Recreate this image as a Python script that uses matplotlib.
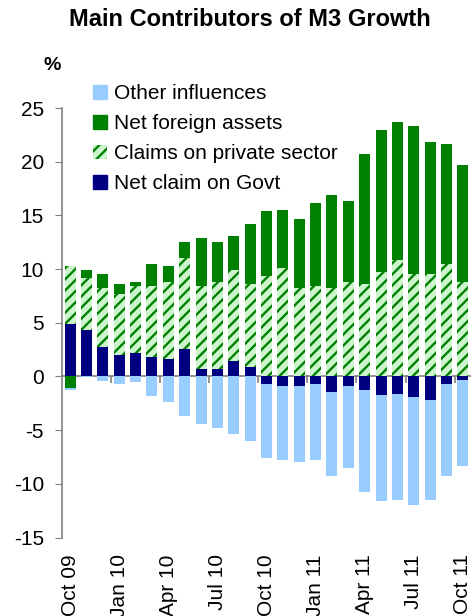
import matplotlib
matplotlib.use("Agg")
import matplotlib.pyplot as plt
import numpy as np
from matplotlib.patches import Patch

plt.rcParams['font.family'] = ['Liberation Sans', 'DejaVu Sans']
plt.rcParams['axes.unicode_minus'] = False
plt.rcParams['hatch.linewidth'] = 1.7
plt.rcParams['hatch.color'] = '#008000'

months = ["Oct 09", "Nov 09", "Dec 09", "Jan 10", "Feb 10", "Mar 10", "Apr 10", "May 10",
          "Jun 10", "Jul 10", "Aug 10", "Sep 10", "Oct 10", "Nov 10", "Dec 10", "Jan 11",
          "Feb 11", "Mar 11", "Apr 11", "May 11", "Jun 11", "Jul 11", "Aug 11", "Sep 11", "Oct 11"]

net_claim_govt = [4.85, 4.29, 2.74, 1.96, 2.17, 1.80, 1.59, 2.52, 0.65, 0.65, 1.40, 0.84,
                  -0.75, -0.93, -0.93, -0.75, -1.49, -0.93, -1.30, -1.77, -1.68, -1.96, -2.24, -0.75, -0.37]
claims_private = [5.41, 4.88, 5.53, 5.75, 6.23, 6.60, 7.21, 8.48, 7.75, 8.15, 8.49, 7.74,
                  9.33, 10.07, 8.20, 8.40, 8.20, 8.77, 8.58, 9.70, 10.82, 9.51, 9.51, 10.45, 8.77]
net_foreign_assets = [-1.10, 0.72, 1.24, 0.87, 0.40, 2.05, 1.46, 1.50, 4.47, 3.70, 3.17, 5.60,
                      6.06, 5.42, 6.45, 7.74, 8.68, 7.55, 12.12, 13.25, 12.88, 13.81, 12.32, 11.19, 10.91]
other_influences = [-0.20, -0.05, -0.40, -0.75, -0.56, -1.84, -2.40, -3.70, -4.45, -4.82, -5.38, -6.00,
                    -6.81, -6.81, -7.00, -6.99, -7.75, -7.56, -9.43, -9.80, -9.79, -9.98, -9.23, -8.49, -7.93]

tick_labels = months[::3]

fig = plt.figure(figsize=(4.71, 6.16), dpi=100)
ax = fig.add_axes([62 / 471, 1 - 537.5 / 616, (471 - 62) / 471, (537.5 - 108) / 616])

x = np.arange(len(months))
width = 0.67
pos_bottom = np.zeros(len(months))
neg_bottom = np.zeros(len(months))

series = [
    ("Net claim on Govt", net_claim_govt, dict(color='#000080')),
    ("Claims on private sector", claims_private, dict(facecolor='#ccf5cc', edgecolor='#008000', hatch='///', linewidth=0)),
    ("Net foreign assets", net_foreign_assets, dict(color='#008000')),
    ("Other influences", other_influences, dict(color='#99ccff')),
]
handles = {}
for name, vals, style in series:
    vals = np.array(vals)
    bottoms = np.where(vals >= 0, pos_bottom, neg_bottom)
    ax.bar(x, vals, width=width, bottom=bottoms, **style)
    pos_bottom = pos_bottom + np.where(vals >= 0, vals, 0)
    neg_bottom = neg_bottom + np.where(vals < 0, vals, 0)
    handles[name] = Patch(label=name, **style)

ax.set_xlim(-0.5, len(months) - 0.5)
ax.set_ylim(-15, 25)
ax.set_yticks(np.arange(-15, 26, 5))
ax.tick_params(axis='y', labelsize=15, length=5, color='#808080', pad=8)
for s in ['top', 'right', 'bottom']:
    ax.spines[s].set_visible(False)
ax.spines['left'].set_color('#808080')
ax.spines['left'].set_linewidth(1.2)

ax.set_xticks(x[::3])
ax.set_xticklabels(tick_labels, rotation=90, fontsize=15)
ax.tick_params(axis='x', length=0, pad=12)

sec = ax.secondary_xaxis(15 / 40)
sec.set_xticks(np.arange(2.5, len(months), 3))
sec.tick_params(axis='x', length=5, color='#808080', labelbottom=False, width=1.2)
sec.spines['bottom'].set_color('#808080')
sec.spines['bottom'].set_linewidth(1.2)

order = ["Other influences", "Net foreign assets", "Claims on private sector", "Net claim on Govt"]
leg = fig.legend([handles[n] for n in order], order, loc='upper left',
                 bbox_to_anchor=(93 / 471, 1 - 84 / 616), frameon=False, fontsize=15,
                 handlelength=0.68, handleheight=0.68, handletextpad=0.34, labelspacing=0.53,
                 borderaxespad=0, borderpad=0)

fig.text(250 / 471, 1 - 20 / 616, "Main Contributors of M3 Growth", ha='center', va='center',
         fontsize=17, fontweight='bold')
fig.text(52 / 471, 1 - 66 / 616, "%", ha='center', va='center', fontsize=14, fontweight='bold')

fig.savefig("out.png", dpi=100)
